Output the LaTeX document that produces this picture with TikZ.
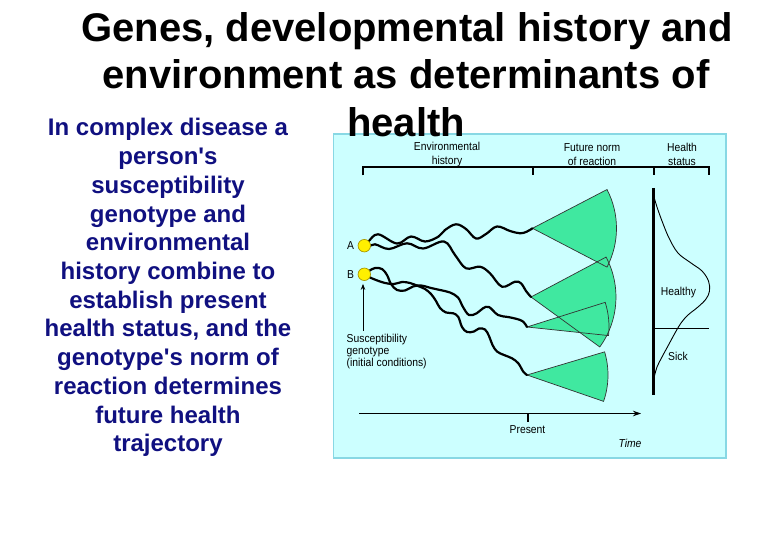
\documentclass[tikz,border=0pt]{standalone}
\usepackage{fontspec}
\setmainfont{Liberation Sans}
\newfontfamily\plainsans{Liberation Sans}
\newfontfamily\narrowsans[FakeStretch=0.9]{Liberation Sans}
\usetikzlibrary{arrows.meta}
\definecolor{panelbg}{HTML}{CCFFFF}
\definecolor{panelbd}{HTML}{88D8E4}
\definecolor{fangreen}{HTML}{40E8A0}
\definecolor{navytext}{RGB}{16,16,128}
\definecolor{ballfill}{HTML}{FFF000}
\definecolor{ballline}{HTML}{A89800}
\begin{document}
\begin{tikzpicture}[x=1pt,y=-1pt,
  titletext/.style={font=\fontsize{40}{47}\selectfont\bfseries, anchor=base, inner sep=0},
  sidetext/.style={font=\plainsans\fontsize{24}{28.7}\selectfont\bfseries, text=navytext, anchor=base, inner sep=0},
  lab/.style={font=\narrowsans\fontsize{11.5}{13.4}\selectfont, inner sep=0, align=center},
  wave/.style={line width=2.2pt, line cap=round, line join=round},
  heavy/.style={line width=2pt},
  fanline/.style={draw=black!80, line width=0.7pt},
  ball/.style={circle, fill=ballfill, draw=ballline, line width=0.7pt, minimum size=12.5pt, inner sep=0}
]
\useasboundingbox (0,0) rectangle (780,540);
\fill[white] (0,0) rectangle (780,540);

% panel
\draw[panelbd, fill=panelbg, line width=1.5pt] (333.5,134) rectangle (726,458);

% title
\node[titletext] (t1) at (407,42) {Genes, developmental history and};
\node[titletext] (t2) at (406,89) {environment as determinants of};
\node[titletext] (t3) at (406,136.5) {health};

% side text
\foreach \txt [count=\i] in {In complex disease a, person's, susceptibility, genotype and, environmental, history combine to, establish present, {health status, and the}, genotype's norm of, reaction determines, future health, trajectory}
  \node[sidetext] (s\i) at (168,{136+(\i-1)*28.7}) {\txt};

% bracket
\draw[heavy] (363,175.5) -- (363,167.5) -- (708.5,167.5) -- (708.5,175.5);
\draw[heavy] (532.5,167.5) -- (532.5,175.5);
\draw[heavy] (654,167.5) -- (654,175.5);
\node[lab] (envh) at (447,154.5) {Environmental\\history};
\node[lab] (futn) at (592,154.5) {Future norm\\of reaction};
\node[lab] (hstat) at (682,154.5) {Health\\status};

% fans
\coordinate (f1) at (532.5,228.3);
\coordinate (f2) at (531,297);
\coordinate (f3) at (527,327);
\coordinate (f4) at (527,375);
\newcommand{\fanpath}[4]{(#1) -- +(-#2:#4) arc[start angle=-#2, end angle=-#3, radius=#4] -- cycle}
\fill[fangreen] \fanpath{f1}{27.5}{-27.5}{84};
\fill[fangreen] \fanpath{f2}{28}{-36}{85};
\fill[fangreen] \fanpath{f3}{17.5}{-6}{82};
\fill[fangreen] \fanpath{f4}{16.6}{-19}{81};
\draw[fanline] \fanpath{f1}{27.5}{-27.5}{84};
\draw[fanline] \fanpath{f2}{28}{-36}{85};
\draw[fanline] \fanpath{f3}{17.5}{-6}{82};
\draw[fanline] \fanpath{f4}{16.6}{-19}{81};

% genotype positions
\coordinate (Ac) at (364.3,245.7);
\coordinate (Bc) at (364.3,274.3);

% wavy histories
\draw[wave] plot[smooth, tension=0.6] coordinates {(Ac) (368.3,241.7) (378,234.3) (397,243.5) (411,236.5) (425,241.5) (438.3,236.7) (445,230) (456,224.3) (466,229) (476,238.5) (486,234) (497,226.5) (510,231) (520,233.3) (526.7,231.7) (f1)};
\draw[wave] plot[smooth, tension=0.6] coordinates {(Ac) (368.3,246.7) (375,244.3) (389,249) (407,243.3) (423,248.5) (444,241.5) (455,255) (466,268.3) (480,266.7) (490,273.3) (502,286.7) (515,281.7) (521,283.3) (526,291) (f2)};
\draw[wave] plot[smooth, tension=0.6] coordinates {(Bc) (369,271) (375,268) (382,269) (387,275) (391,284) (397,290) (405,290.5) (413,286.5) (421,285.5) (431,288) (440,290) (450,292.5) (458,297.5) (463,307) (469,315) (476.7,313.3) (483,308.3) (489,307) (498,315) (508,317) (517,319) (523.3,321.7) (f3)};
\draw[wave] plot[smooth, tension=0.6] coordinates {(Bc) (369,277) (376,280) (385,283) (394,284) (402,282) (410,283) (418,286) (425,289) (431,294) (436,301) (440,308) (446,312.5) (453.3,313.3) (458.3,317) (462,327) (467,332) (474,331.5) (479,328.5) (485,329.5) (489,336) (492.5,345) (497,351.5) (504,355) (512,358.3) (518.3,363.3) (523.3,371.7) (f4)};

\node[ball] (A) at (Ac) {};
\node[ball] (B) at (Bc) {};
\node[lab, anchor=center] (la) at (350.5,245.5) {A};
\node[lab, anchor=center] (lb) at (350.5,274.5) {B};

% susceptibility arrow
\node[lab, align=left, anchor=north west, font=\narrowsans\fontsize{11.5}{12.4}\selectfont] (susc) at (346.5,333.5) {Susceptibility\\genotype\\(initial conditions)};
\coordinate (sa) at (363,331);
\draw[line width=0.8pt, -{Stealth[length=6pt, width=4.5pt]}] (sa) -- ([yshift=-3pt]sa |- B.south);

% time axis
\coordinate (ta) at (359,413.5);
\coordinate (tb) at (641,413.5);
\coordinate (pr) at (527.5,413.5);
\draw[line width=1.2pt, -{Stealth[length=8pt, width=5.5pt]}] (ta) -- (tb);
\draw[heavy] (pr) -- ++(0,8);
\node[lab] (present) at (527.5,430) {Present};
\node[lab, font=\narrowsans\fontsize{11.5}{12}\selectfont\itshape] (time) at (630,443) {Time};

% health status
\coordinate (hv1) at (653.5,188);
\coordinate (hv2) at (653.5,395);
\draw[line width=2.4pt] (hv1) -- (hv2);
\coordinate (hh) at (709,328.3);
\draw[line width=0.9pt] (hh -| hv1) -- (hh);
\draw[line width=0.9pt] plot[smooth, tension=0.6] coordinates {(654,197) (657,207) (662,221) (669,238) (678,253) (691,263) (702,271) (708.5,281) (709.5,291) (706,299) (698,307) (688,315) (681,323) (675,333) (668.5,345) (662,357) (657,367) (654,378)};
\node[lab] (healthy) at (678.5,292.5) {Healthy};
\node[lab] (sick) at (678,356) {Sick};
\end{tikzpicture}
\end{document}
